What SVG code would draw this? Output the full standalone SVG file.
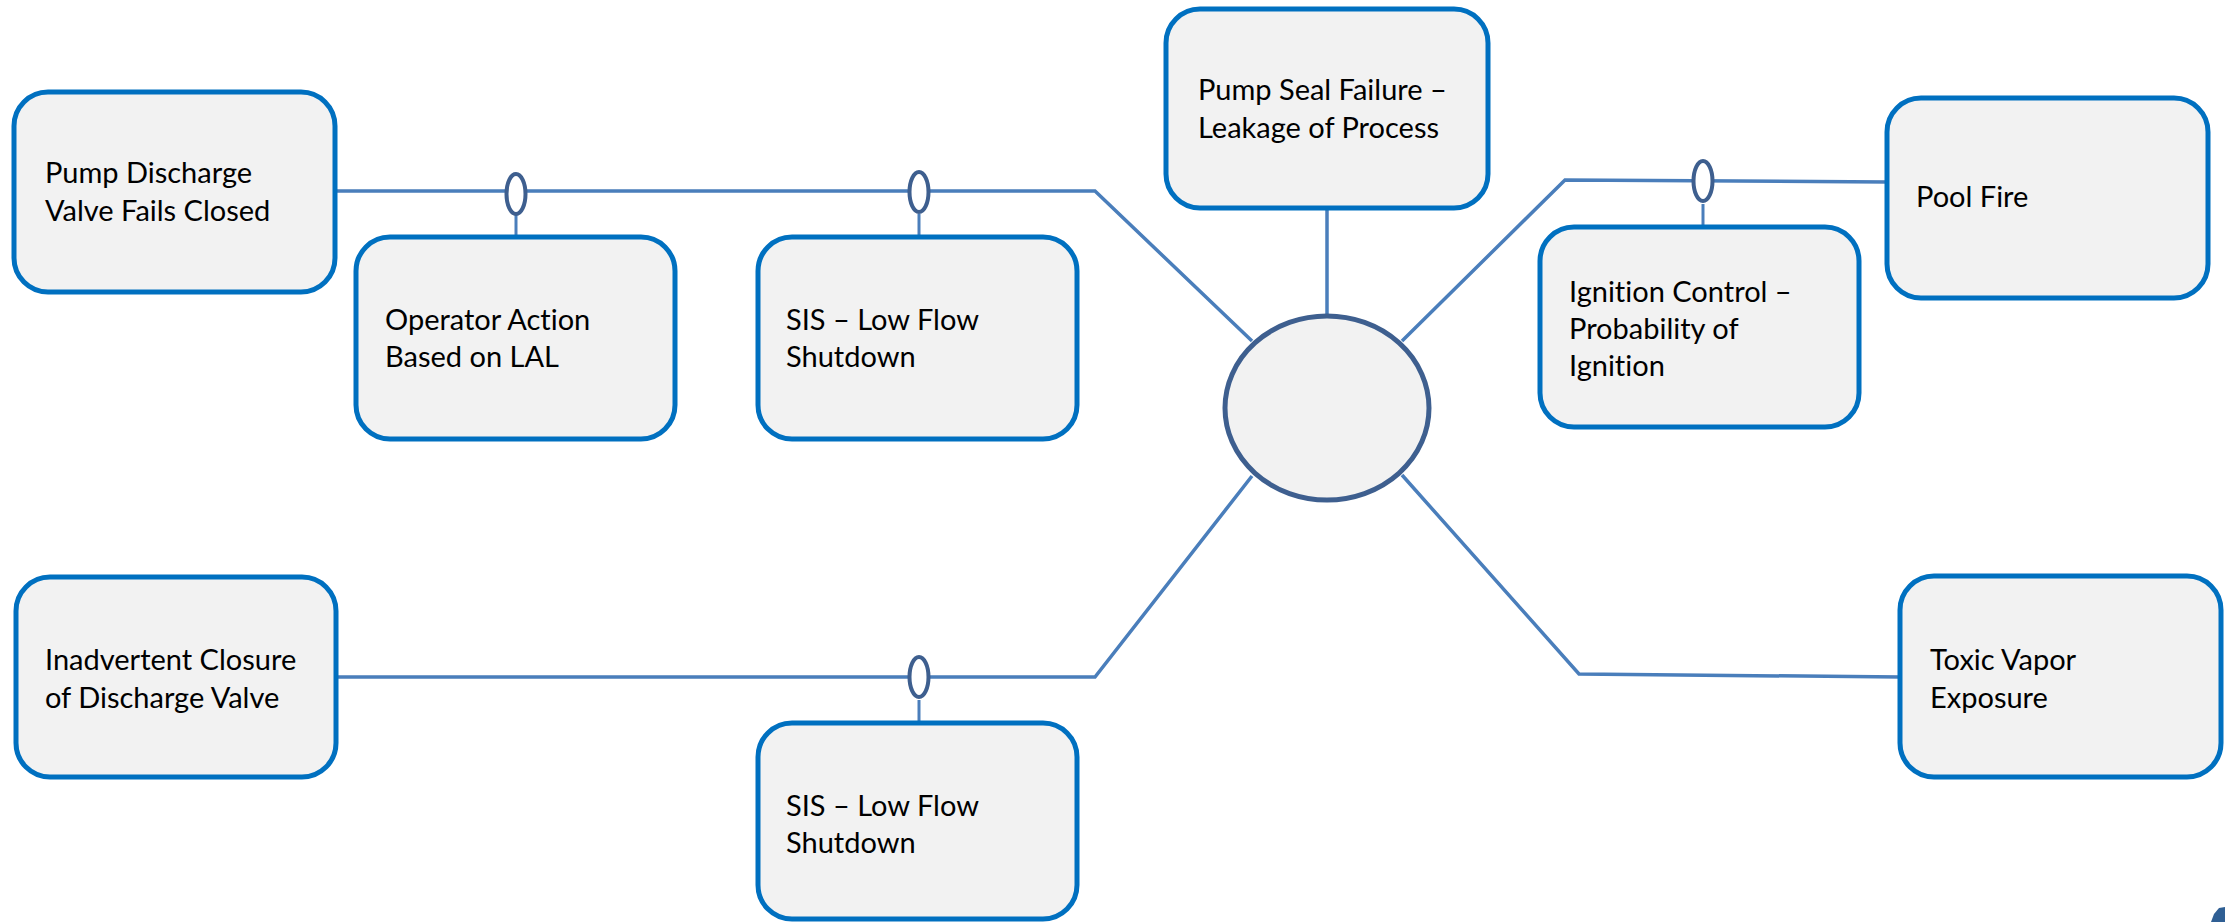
<svg xmlns="http://www.w3.org/2000/svg" width="2225" height="922" viewBox="0 0 2225 922">
  <defs>
    <style>
      .box { fill: #F2F2F2; stroke: #0070C0; stroke-width: 5; }
      .hub { fill: #F2F2F2; stroke: #3E5F8F; stroke-width: 5; }
      .link { fill: none; stroke: #4A7EBB; stroke-width: 3.5; stroke-linecap: butt; }
      .stem { fill: none; stroke: #4A7EBB; stroke-width: 3; }
      .barrier { fill: #FFFFFF; stroke: #3E5F8F; stroke-width: 4; }
      .label { font-family: "Lato", "Liberation Sans", sans-serif; font-size: 29px; fill: #000000;
               font-variant-ligatures: none; font-feature-settings: "liga" 0, "clig" 0, "dlig" 0, "calt" 0; }
    </style>
  </defs>
  <rect width="2225" height="922" fill="#FFFFFF"/>

  <!-- connectors -->
  <g id="connectors">
    <!-- threat 1 to hub -->
    <polyline class="link" points="335,191 1095,191 1252,341"/>
    <!-- threat 2 to hub -->
    <polyline class="link" points="336,677 1095,677 1252,476"/>
    <!-- top event to hub -->
    <line class="link" x1="1327" y1="208" x2="1327" y2="316"/>
    <!-- hub to pool fire -->
    <polyline class="link" points="1402,341 1565,180 1887,182"/>
    <!-- hub to toxic vapor -->
    <polyline class="link" points="1402,475 1579,674 1900,677"/>

    <!-- barrier stems -->
    <line class="stem" x1="516" y1="214" x2="516" y2="237"/>
    <line class="stem" x1="919" y1="214" x2="919" y2="237"/>
    <line class="stem" x1="1703" y1="204" x2="1703" y2="227"/>
    <line class="stem" x1="919" y1="700" x2="919" y2="723"/>

    <!-- barrier markers -->
    <ellipse class="barrier" cx="516" cy="194" rx="9.5" ry="20"/>
    <ellipse class="barrier" cx="919" cy="192" rx="9.5" ry="20"/>
    <ellipse class="barrier" cx="1703" cy="181" rx="9.5" ry="20"/>
    <ellipse class="barrier" cx="919" cy="677" rx="9.5" ry="20"/>
  </g>

  <g id="hub">
    <ellipse class="hub" cx="1327" cy="408" rx="102" ry="92"/>
  </g>

  <g id="pump-discharge-valve">
    <rect class="box" x="14" y="92" width="321" height="200" rx="34"/>
    <text class="label" x="45" y="183">Pump Discharge</text>
    <text class="label" x="45" y="221">Valve Fails Closed</text>
  </g>

  <g id="operator-action">
    <rect class="box" x="356" y="237" width="319" height="202" rx="34"/>
    <text class="label" x="385" y="330">Operator Action</text>
    <text class="label" x="385" y="367">Based on LAL</text>
  </g>

  <g id="sis-low-flow-top">
    <rect class="box" x="758" y="237" width="319" height="202" rx="34"/>
    <text class="label" x="786" y="330">SIS – Low Flow</text>
    <text class="label" x="786" y="367">Shutdown</text>
  </g>

  <g id="pump-seal-failure">
    <rect class="box" x="1166" y="9" width="322" height="199" rx="34"/>
    <text class="label" x="1198" y="100">Pump Seal Failure –</text>
    <text class="label" x="1198" y="138">Leakage of Process</text>
  </g>

  <g id="ignition-control">
    <rect class="box" x="1540" y="227" width="319" height="200" rx="34"/>
    <text class="label" x="1569" y="302">Ignition Control –</text>
    <text class="label" x="1569" y="339">Probability of</text>
    <text class="label" x="1569" y="376">Ignition</text>
  </g>

  <g id="pool-fire">
    <rect class="box" x="1887" y="98" width="321" height="200" rx="34"/>
    <text class="label" x="1916" y="207">Pool Fire</text>
  </g>

  <g id="inadvertent-closure">
    <rect class="box" x="16" y="577" width="320" height="200" rx="34"/>
    <text class="label" x="45" y="670">Inadvertent Closure</text>
    <text class="label" x="45" y="708">of Discharge Valve</text>
  </g>

  <g id="sis-low-flow-bottom">
    <rect class="box" x="758" y="723" width="319" height="196" rx="34"/>
    <text class="label" x="786" y="816">SIS – Low Flow</text>
    <text class="label" x="786" y="853">Shutdown</text>
  </g>

  <g id="toxic-vapor">
    <rect class="box" x="1900" y="576" width="321" height="201" rx="34"/>
    <text class="label" x="1930" y="670">Toxic Vapor</text>
    <text class="label" x="1930" y="708">Exposure</text>
  </g>

  <!-- corner mark -->
  <path d="M2211,922 L2214,914 L2219,908 L2225,907 L2225,922 Z" fill="#2F5F94"/>
</svg>
